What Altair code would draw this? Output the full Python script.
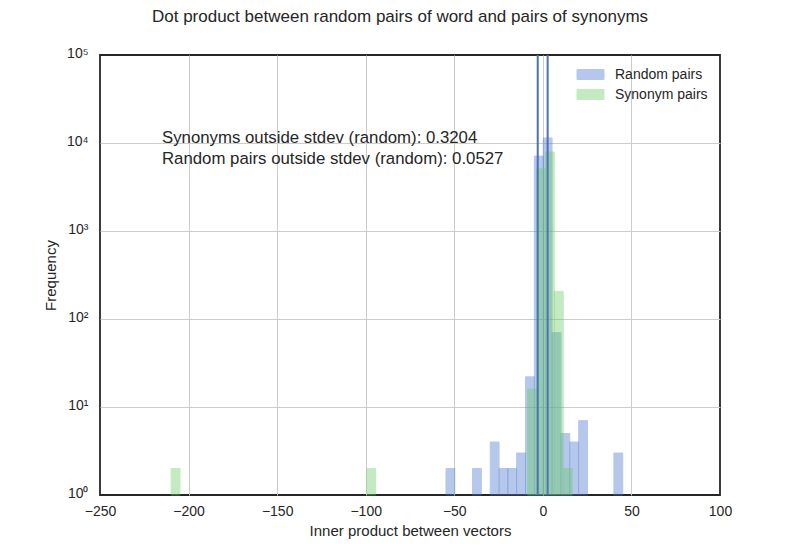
import altair as alt
import pandas as pd

# ---- data ----
random_bin_start = [-54.7, -39.7, -29.7, -24.7, -19.8, -14.8, -9.8, -4.8, 0.2, 5.2, 10.2, 15.2, 20.2, 40.1]
random_bin_width = 4.99
random_counts = [2, 2, 4, 2, 2, 3, 22, 7100, 11400, 70, 5, 4, 7, 3]

synonym_bin_start = [-209.8, -99.3, -8.55, -3.5, 1.5, 6.55, 11.6]
synonym_bin_width = 4.95
synonym_counts = [2, 2, 16, 5100, 7900, 206, 2]

stdev_lines = [-2.9, 2.7]

notes = ["Synonyms outside stdev (random): 0.3204",
         "Random pairs outside stdev (random): 0.0527"]
note_x = [-215, -215]
note_y = [11400, 6580]

series_names = ["Random pairs", "Synonym pairs"]
series_colors = ["#4878CF", "#6ACC65"]

x_ticks = [-250, -200, -150, -100, -50, 0, 50, 100]
y_ticks = [1, 10, 100, 1000, 10000, 100000]

# ---- tables ----
rows = []
for s, c in zip(random_bin_start, random_counts):
    rows.append({"series": series_names[0], "x0": s, "x1": s + random_bin_width, "count": c, "base": 1})
for s, c in zip(synonym_bin_start, synonym_counts):
    rows.append({"series": series_names[1], "x0": s, "x1": s + synonym_bin_width, "count": c, "base": 1})
bars_df = pd.DataFrame(rows)
bars_df["order"] = range(len(bars_df))

lines_df = pd.DataFrame({"x": stdev_lines})
notes_df = pd.DataFrame({"text": notes, "x": note_x, "y": note_y})

FONT = "Liberation Sans"
TXT = "#262626"

xscale = alt.Scale(domain=[-250, 100], nice=False, zero=False, padding=0)
yscale = alt.Scale(type="log", domain=[1, 100000], nice=False, padding=0)

bars = alt.Chart(bars_df).mark_rect(opacity=0.4, strokeWidth=1).encode(
    x=alt.X("x0:Q", scale=xscale,
            axis=alt.Axis(values=x_ticks, title="Inner product between vectors",
                          labelPadding=9, titlePadding=5, labelFlush=False,
                          gridOpacity={"condition": {"test": "datum.value <= -250 || datum.value >= 100",
                                                     "value": 0}, "value": 1})),
    x2="x1:Q",
    y=alt.Y("count:Q", scale=yscale,
            axis=alt.Axis(values=y_ticks, title="Frequency",
                          labelExpr="'10' + ['⁰','¹','²','³','⁴','⁵'][round(log(datum.value)/LN10)]",
                          labelPadding=12, titlePadding=8, labelFlush=False, labelOffset=-2,
                          gridOpacity={"condition": {"test": "datum.value <= 1 || datum.value >= 100000",
                                                     "value": 0}, "value": 1})),
    y2="base:Q",
    fill=alt.Fill("series:N", scale=alt.Scale(domain=series_names, range=series_colors),
                  legend=alt.Legend(title=None, orient="none", legendX=480, legendY=9,
                                    symbolType="M-1.35,-0.5H1.35V0.5H-1.35Z",
                                    symbolSize=400, symbolOpacity=0.4,
                                    symbolStrokeWidth=1, labelOffset=14,
                                    labelFontSize=14, labelFont=FONT, labelColor=TXT,
                                    rowPadding=2, padding=0)),
    stroke=alt.Stroke("series:N", scale=alt.Scale(domain=series_names, range=series_colors),
                      legend=None),
    order="order:Q",
)

rules = alt.Chart(lines_df).mark_rule(color="#4C72B0", strokeWidth=2).encode(
    x=alt.X("x:Q", scale=xscale)
)

text = alt.Chart(notes_df).mark_text(align="left", baseline="middle", fontSize=16.8,
                                     font=FONT, color=TXT).encode(
    x=alt.X("x:Q", scale=xscale),
    y=alt.Y("y:Q", scale=yscale),
    text="text:N",
)

chart = alt.layer(bars, rules, text).properties(
    width=620, height=440,
    autosize=alt.AutoSizeParams(type="none"),
    padding={"left": 92, "top": 47, "right": 72, "bottom": 47},
    title=alt.TitleParams("Dot product between random pairs of word and pairs of synonyms",
                          fontSize=17, fontWeight="normal", font=FONT, color=TXT,
                          offset=20, dx=-10),
).configure(background="white").configure_view(
    stroke="#262626", strokeWidth=1.8
).configure_axis(
    domain=False, ticks=False, grid=True, gridColor="#cccccc", gridWidth=1,
    labelFont=FONT, labelFontSize=14, labelColor=TXT,
    titleFont=FONT, titleFontSize=15, titleFontWeight="normal", titleColor=TXT,
)

chart.save("out.html", embed_options={"renderer": "svg", "actions": False})
